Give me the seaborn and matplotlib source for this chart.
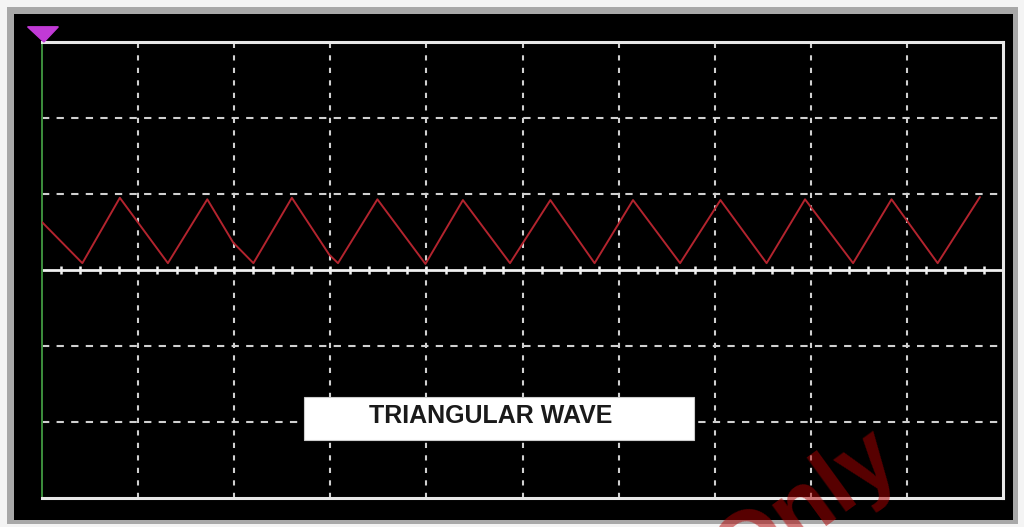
import numpy as np
import pandas as pd
import matplotlib
matplotlib.use("Agg")
import matplotlib.pyplot as plt
from matplotlib.patches import Rectangle, Polygon
import seaborn as sns

# ---- data (in screen divisions) ----
wave_x = [0.00, 0.42, 0.81, 1.31, 1.72, 1.99, 2.20, 2.60, 2.99, 3.08, 3.49, 3.99,
          4.38, 4.87, 5.29, 5.75, 6.15, 6.64, 7.06, 7.54, 7.94, 8.44, 8.84, 9.32, 9.76]
wave_y = [0.63, 0.09, 0.95, 0.09, 0.93, 0.36, 0.09, 0.95, 0.20, 0.09, 0.93, 0.08,
          0.92, 0.09, 0.92, 0.09, 0.92, 0.09, 0.92, 0.09, 0.93, 0.09, 0.93, 0.09, 0.96]
x_divs = [1, 2, 3, 4, 5, 6, 7, 8, 9]
y_divs = [-2, -1, 1, 2]
title_text = "TRIANGULAR WAVE"
watermark = "Only"

sns.set_theme(style="dark")
plt.rcParams['font.family'] = ['Liberation Sans', 'DejaVu Sans']

W, H = 1024, 527
fig = plt.figure(figsize=(W / 100, H / 100), dpi=100, facecolor="#f4f4f4")

def px_rect(x0, y0, x1, y1, **kw):
    fig.add_artist(Rectangle((x0 / W, 1 - y1 / H), (x1 - x0) / W, (y1 - y0) / H,
                             transform=fig.transFigure, **kw))

px_rect(7, 7, 1018, 524, facecolor="#a8a8a8", edgecolor="none", zorder=0)
px_rect(14, 14, 1013, 520, facecolor="black", edgecolor="none", zorder=0)

ax = fig.add_axes([42 / W, 1 - 498 / H, 961 / W, 456 / H])
ax.set_facecolor("black")
ax.set_xlim(0, 10)
ax.set_ylim(-3, 3)

# grid
for xv in x_divs:
    ax.axvline(xv, color="#d0d0d0", lw=1.5, linestyle=(0, (2.5, 3.5)), zorder=1)
for yv in y_divs:
    ax.axhline(yv, color="#d0d0d0", lw=1.5, linestyle=(0, (3.5, 3.5)), zorder=1)
ax.axhline(0, color="#f0f0f0", lw=2.0, zorder=2)
ticks = np.arange(0.2, 10, 0.2)
ax.plot(ticks, np.zeros_like(ticks), linestyle="none", marker="|", markersize=6,
        markeredgewidth=1.8, color="#f0f0f0", zorder=2)

# waveform
df = pd.DataFrame({"t": wave_x, "v": wave_y})
sns.lineplot(data=df, x="t", y="v", sort=False, color="#b3242e", lw=1.4, ax=ax, zorder=4)

# label box
ax.add_patch(Rectangle((2.73, -2.24), 4.05, 0.57, facecolor="white", edgecolor="#cccccc",
                       lw=0.8, zorder=5))
ax.text(4.67, -1.92, title_text, ha="center", va="center", fontsize=18,
        fontweight="bold", color="#1a1a1a", zorder=6)

# spines
for s in ["top", "right", "bottom"]:
    ax.spines[s].set_color("#e8e8e8")
    ax.spines[s].set_linewidth(2.2)
ax.spines["left"].set_color("#3d8f3d")
ax.spines["left"].set_linewidth(1.4)
ax.set_xticks([])
ax.set_yticks([])
ax.set_xlabel("")
ax.set_ylabel("")
ax.grid(False)

# trigger cursor marker
ax.add_patch(Polygon([(-0.15, 3.2), (0.17, 3.2), (0.02, 3.0)], closed=True,
                     facecolor="#c13ad6", edgecolor="#c13ad6", clip_on=False, zorder=7))

# watermark (partly outside the picture, as in the reference)
fig.text(806 / W, 1 - 508 / H, watermark, rotation=36, rotation_mode="anchor",
         ha="center", va="center", fontsize=66, fontweight="bold",
         color="#b00000", alpha=0.5, zorder=10)

fig.savefig("out.png", dpi=100, facecolor=fig.get_facecolor())
